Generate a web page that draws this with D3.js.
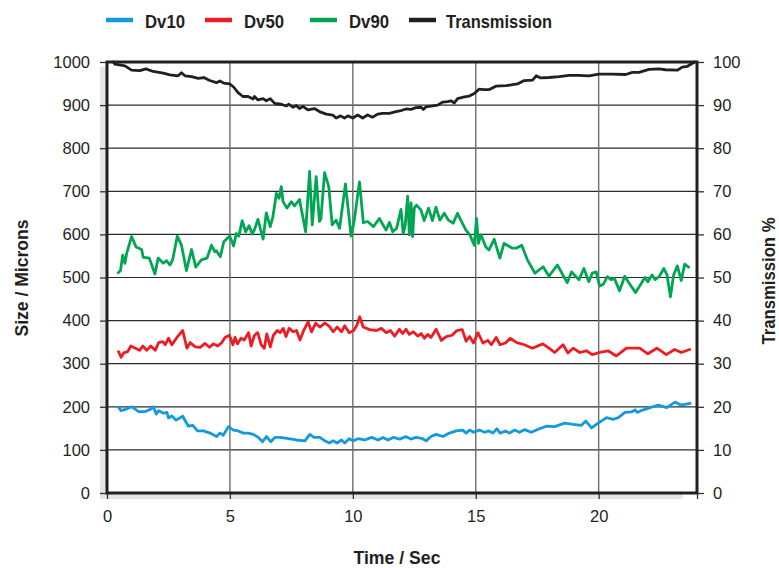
<!DOCTYPE html>
<html><head><meta charset="utf-8">
<script src="https://cdn.jsdelivr.net/npm/d3@7/dist/d3.min.js"></script>
<style>
html,body{margin:0;padding:0;background:#fff;}
svg{display:block;}
.tick text{font-family:"Liberation Sans",Arial,sans-serif;font-size:16.5px;fill:#231f20;}
.ttl{font-family:"Liberation Sans",Arial,sans-serif;font-weight:bold;fill:#231f20;}
</style></head>
<body><svg id="c" width="779" height="568"></svg>
<script>
// ---------- DATA ----------
const seriesNames = ["Dv10","Dv50","Dv90","Transmission"];
const seriesColors = ["#1499dd","#ed1c24","#00a651","#231f20"];
const sizeTicks = [0,100,200,300,400,500,600,700,800,900,1000];
const transTicks = [0,10,20,30,40,50,60,70,80,90,100];
const timeTicks = [0,5,10,15,20,24];

const dv10Time = [0.47,0.57,0.74,1.01,1.29,1.56,1.76,1.89,2.0,2.1,2.3,2.44,2.5,2.64,2.81,3.08,3.31,3.49,3.68,3.92,4.19,4.46,4.6,4.73,4.94,5.14,5.34,5.55,5.75,5.95,6.16,6.33,6.49,6.66,6.83,7.04,7.38,7.71,8.05,8.25,8.42,8.66,8.86,9.04,9.2,9.36,9.54,9.67,9.85,10.01,10.21,10.48,10.76,11.03,11.23,11.43,11.64,11.91,12.16,12.36,12.57,12.84,12.98,13.18,13.39,13.66,13.93,14.2,14.47,14.61,14.75,14.91,15.15,15.36,15.53,15.7,15.86,15.99,16.21,16.37,16.58,16.78,16.98,17.26,17.59,17.87,18.21,18.62,18.96,19.3,19.48,19.71,19.98,20.32,20.6,20.8,21.07,21.34,21.48,21.57,21.82,22.09,22.43,22.77,23.11,23.34,23.72];
const dv10Size = [199,191,194,200,189,189,194,200,183,191,185,187,174,179,169,178,155,157,144,144,139,131,139,134,154,146,144,139,139,136,129,119,131,119,129,129,126,123,121,136,129,129,121,116,121,116,123,116,126,121,126,123,129,123,129,123,129,125,131,125,129,126,121,131,136,131,139,144,146,139,146,141,146,141,144,139,149,139,144,139,146,141,147,141,149,155,154,162,159,157,167,151,162,175,171,175,187,188,193,187,193,198,204,198,211,204,208];

const dv50Time = [0.47,0.57,0.68,0.84,0.97,1.15,1.33,1.46,1.62,1.78,1.96,2.1,2.27,2.37,2.5,2.64,2.87,3.08,3.25,3.38,3.59,3.79,3.99,4.17,4.33,4.5,4.67,4.8,4.98,5.12,5.21,5.31,5.45,5.58,5.76,5.86,6.0,6.13,6.27,6.4,6.5,6.64,6.77,6.93,7.04,7.17,7.28,7.41,7.58,7.71,7.85,8.0,8.18,8.32,8.49,8.66,8.86,9.04,9.2,9.36,9.54,9.67,9.85,10.04,10.17,10.28,10.42,10.69,10.96,11.16,11.36,11.53,11.7,11.89,12.03,12.16,12.3,12.46,12.64,12.78,12.91,13.05,13.18,13.39,13.6,13.8,14.04,14.23,14.45,14.61,14.75,14.91,15.09,15.29,15.49,15.63,15.83,15.99,16.21,16.4,16.67,16.98,17.3,17.73,17.98,18.21,18.55,18.75,18.96,19.23,19.5,19.74,20.04,20.38,20.72,21.13,21.67,22.0,22.37,22.75,23.09,23.36,23.7];
const dv50Size = [328,315,325,328,341,336,331,341,331,341,331,349,351,344,359,344,363,377,336,349,339,338,347,338,346,341,349,361,366,344,361,346,359,355,372,341,366,372,344,336,369,339,366,377,372,382,363,382,374,377,355,377,397,374,394,385,394,387,374,385,374,388,372,377,390,409,385,379,377,382,372,377,364,380,370,380,368,374,364,370,359,368,361,380,354,363,366,377,379,352,363,348,372,348,354,344,361,344,348,359,349,344,336,346,336,326,344,325,336,326,330,321,326,330,318,336,336,323,336,321,333,326,333];

const dv90Time = [0.46,0.55,0.64,0.73,0.8,1.0,1.18,1.41,1.47,1.72,1.95,2.08,2.29,2.42,2.56,2.67,2.86,3.03,3.23,3.44,3.61,3.84,4.07,4.25,4.38,4.45,4.61,4.75,4.99,5.15,5.26,5.36,5.5,5.64,5.78,5.91,6.0,6.14,6.35,6.48,6.64,6.75,6.89,7.0,7.09,7.16,7.32,7.5,7.63,7.83,8.08,8.24,8.35,8.51,8.64,8.7,8.85,9.02,9.16,9.32,9.46,9.7,9.93,10.06,10.27,10.43,10.6,10.84,11.08,11.35,11.49,11.62,11.78,11.96,12.05,12.13,12.23,12.3,12.37,12.43,12.5,12.59,12.77,12.9,13.08,13.24,13.38,13.54,13.72,13.89,14.08,14.26,14.39,14.6,14.76,14.94,15.03,15.11,15.21,15.41,15.54,15.75,15.98,16.15,16.49,16.65,16.87,17.1,17.41,17.74,17.98,18.32,18.72,18.9,19.06,19.2,19.4,19.6,19.74,19.9,20.04,20.2,20.35,20.5,20.64,20.85,21.06,21.2,21.5,21.7,21.88,22.0,22.17,22.3,22.47,22.65,22.78,22.92,23.05,23.2,23.36,23.5,23.66];
const dv90Size = [511,516,552,533,556,595,571,565,547,545,508,545,533,539,529,541,596,575,516,565,524,541,545,575,560,562,548,583,596,573,602,596,632,606,620,601,611,635,589,650,618,641,695,684,711,676,661,676,666,681,606,746,622,734,630,636,743,711,622,633,614,717,596,633,722,627,630,618,637,610,628,606,614,658,602,621,689,599,673,595,661,668,657,632,661,632,663,633,649,633,626,649,633,610,599,575,637,579,599,571,564,589,545,579,568,568,575,541,510,525,503,529,488,513,503,495,521,490,510,513,480,485,502,495,498,469,503,490,465,483,500,490,506,495,503,521,506,455,506,527,493,531,524];

const transTime = [0.26,0.32,0.73,1.0,1.34,1.58,1.88,2.29,2.56,2.89,3.03,3.17,3.44,3.71,3.94,4.18,4.45,4.59,4.75,4.99,5.15,5.33,5.53,5.74,5.94,6.0,6.14,6.35,6.48,6.64,6.82,7.09,7.29,7.4,7.56,7.7,7.83,7.97,8.17,8.44,8.64,8.92,9.18,9.32,9.5,9.66,9.8,10.0,10.2,10.4,10.6,10.8,11.01,11.21,11.48,11.76,12.0,12.16,12.36,12.57,12.77,12.87,12.98,13.24,13.45,13.65,13.85,13.99,14.13,14.26,14.54,14.74,14.94,15.14,15.34,15.55,15.82,16.23,16.7,16.97,17.31,17.46,17.64,17.98,18.39,18.8,19.2,19.6,20.01,20.55,21.1,21.37,21.64,22.05,22.45,22.72,23.2,23.4,23.61,23.9];
const transPct = [100,99.5,99.1,98.1,98,98.4,97.8,97.4,97,96.8,97.5,96.8,96.6,96.2,96.4,95.7,95.2,95.6,95.1,94.9,94.2,92.9,92,92,91.4,92,91.2,91.5,91,91.5,90.4,90.2,89.8,90.2,89.5,89.9,89.2,89.7,88.9,89.2,88.5,87.9,87.7,87,87.5,87,87.5,87,87.7,87,87.7,87.2,87.9,88.1,88.1,88.5,88.8,89.1,89,89.4,89.5,89,89.6,89.8,90,90.7,90.8,91,90.5,91.5,91.9,92.1,92.7,93.7,93.6,93.6,94.4,94.5,94.9,95.7,95.8,96.8,96.3,96.4,96.6,96.9,96.9,96.8,97.2,97.2,97.1,97.6,97.6,98.3,98.4,98.2,98.1,98.8,99,100];

// ---------- CHART ----------
const svg = d3.select("#c");
const L=107, R=697, T=62, B=493;
const x = d3.scaleLinear().domain([0,24]).range([L,R]);
const yL = d3.scaleLinear().domain([0,1000]).range([B,T]);
const yR = d3.scaleLinear().domain([0,100]).range([B,T]);

// shadow + plot background
svg.append("rect").attr("x",L-7).attr("y",T+5).attr("width",R-L-7).attr("height",B-T+1).attr("fill","#e4e5e7");
svg.append("rect").attr("x",L).attr("y",T).attr("width",R-L).attr("height",B-T).attr("fill","#fff");

// grid
svg.append("g").selectAll("line").data(sizeTicks.filter(d=>d>0&&d<1000)).join("line")
  .attr("x1",L).attr("x2",R).attr("y1",d=>yL(d)).attr("y2",d=>yL(d))
  .attr("stroke","#2b2b2b").attr("stroke-width",1.2);
svg.append("g").selectAll("line").data(timeTicks.filter(d=>d>0&&d<24)).join("line")
  .attr("y1",T).attr("y2",B).attr("x1",d=>x(d)).attr("x2",d=>x(d))
  .attr("stroke","#6d6d6d").attr("stroke-width",1.4);

// axes
const fontSel = g=>g.selectAll(".tick text").attr("fill","#231f20");
const axL = d3.axisLeft(yL).tickValues(sizeTicks).tickSize(7).tickPadding(10).tickFormat(d3.format("d"));
svg.append("g").attr("transform",`translate(${L},0)`).call(axL)
  .call(g=>g.select(".domain").remove())
  .call(g=>g.selectAll(".tick line").attr("stroke","#333").attr("stroke-width",1.3))
  .call(fontSel);
const axR = d3.axisRight(yR).tickValues(transTicks).tickSize(7).tickPadding(9).tickFormat(d3.format("d"));
svg.append("g").attr("transform",`translate(${R},0)`).call(axR)
  .call(g=>g.select(".domain").remove())
  .call(g=>g.selectAll(".tick line").attr("stroke","#333").attr("stroke-width",1.3))
  .call(fontSel);
const axB = d3.axisBottom(x).tickValues(timeTicks).tickSize(6).tickPadding(11).tickFormat(d=>d===24?"":d);
svg.append("g").attr("transform",`translate(0,${B})`).call(axB)
  .call(g=>g.select(".domain").remove())
  .call(g=>g.selectAll(".tick line").attr("stroke","#333").attr("stroke-width",1.3))
  .call(fontSel);

// data lines
const specs = [
  {t:dv10Time, v:dv10Size, y:yL, c:seriesColors[0]},
  {t:dv50Time, v:dv50Size, y:yL, c:seriesColors[1]},
  {t:dv90Time, v:dv90Size, y:yL, c:seriesColors[2]},
  {t:transTime, v:transPct, y:yR, c:seriesColors[3]}
];
specs.forEach(s=>{
  const line = d3.line().x(i=>x(s.t[i])).y(i=>s.y(s.v[i]));
  svg.append("path").datum(d3.range(s.t.length)).attr("d",line)
    .attr("fill","none").attr("stroke",s.c).attr("stroke-width",2.8)
    .attr("stroke-linejoin","round").attr("stroke-linecap","round");
});

// frame
svg.append("rect").attr("x",L).attr("y",T).attr("width",R-L).attr("height",B-T)
  .attr("fill","none").attr("stroke","#231f20").attr("stroke-width",3);

// titles (condensed look via textLength)
svg.append("text").attr("class","ttl").attr("font-size",19)
  .attr("text-anchor","middle").attr("transform",`translate(28,278) rotate(-90)`)
  .attr("textLength",117).attr("lengthAdjust","spacingAndGlyphs").text("Size / Microns");
svg.append("text").attr("class","ttl").attr("font-size",19)
  .attr("text-anchor","middle").attr("transform",`translate(775,281) rotate(-90)`)
  .attr("textLength",127).attr("lengthAdjust","spacingAndGlyphs").text("Transmission %");
svg.append("text").attr("class","ttl").attr("font-size",19)
  .attr("text-anchor","middle").attr("x",397).attr("y",564)
  .attr("textLength",87).attr("lengthAdjust","spacingAndGlyphs").text("Time / Sec");

// legend
const legX = [106,205,310,409];
const legW = [40,40,40,106];
const lg = svg.append("g").selectAll("g").data(seriesNames).join("g")
  .attr("transform",(d,i)=>`translate(${legX[i]},20)`);
lg.append("line").attr("x1",0).attr("x2",27).attr("y1",0).attr("y2",0)
  .attr("stroke",(d,i)=>seriesColors[i]).attr("stroke-width",4.5);
lg.append("text").attr("class","ttl").attr("font-size",19).attr("x",(d,i)=>i===3?37:39).attr("y",8)
  .attr("textLength",(d,i)=>legW[i]).attr("lengthAdjust","spacingAndGlyphs").text(d=>d);
</script></body></html>
